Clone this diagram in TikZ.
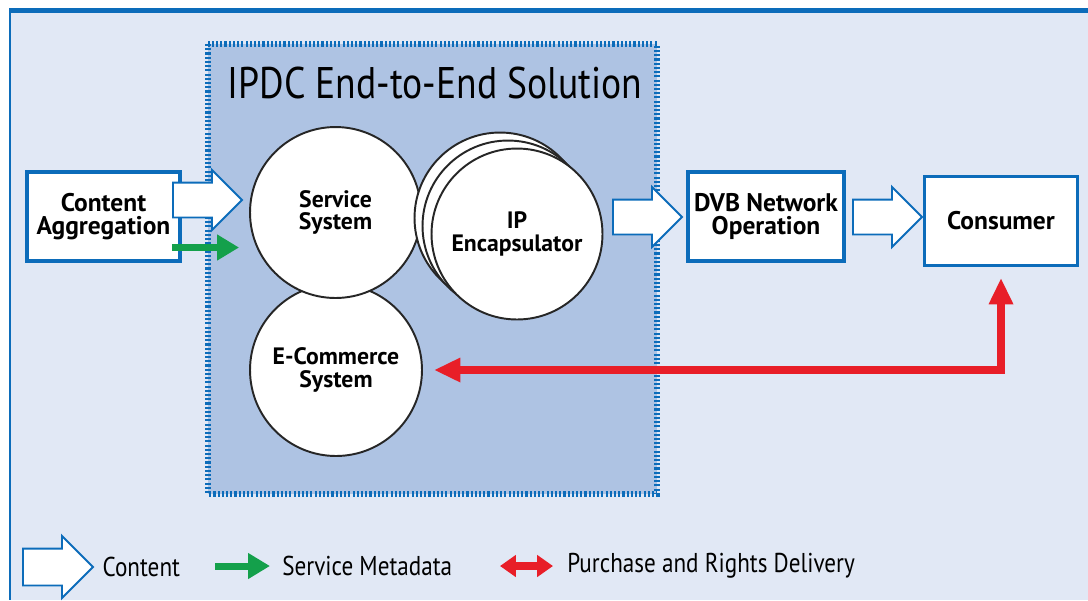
\documentclass[tikz,border=0pt]{standalone}
\usepackage{fontspec}
\setmainfont{PT Sans}
\newfontfamily\condfont[FakeStretch=0.85]{PT Sans}
\usetikzlibrary{arrows.meta}
\usetikzlibrary{positioning}
\usetikzlibrary{shapes.arrows}
\definecolor{ipdcBlue}{RGB}{12,108,186}
\definecolor{frameBg}{RGB}{225,232,245}
\definecolor{solutionBg}{RGB}{174,195,227}
\definecolor{metaGreen}{RGB}{20,160,75}
\definecolor{rightsRed}{RGB}{232,30,40}
\tikzset{
    box/.style={draw=ipdcBlue, line width=2.2pt, fill=white, minimum width=3.06cm,
      minimum height=1.78cm, align=center, font=\bfseries\fontsize{14.5}{13.5}\selectfont},
    unit/.style={circle, draw=black!85, line width=1.1pt, fill=white, minimum size=3.42cm,
      align=center, font=\bfseries\fontsize{13.5}{13}\selectfont},
    content/.style={single arrow, draw=ipdcBlue, fill=white, line width=1.1pt, inner xsep=0pt,
      inner ysep=0.33cm, single arrow head extend=0.25cm, minimum width=1.16cm,
      minimum height=1.38cm, anchor=tail},
    meta/.style={-{Triangle[length=12.5pt,width=14pt]}, draw=metaGreen, line width=4pt},
    rights/.style={{Triangle[length=15pt,width=13pt]}-{Triangle[length=15pt,width=13pt]},
      draw=rightsRed, line width=4.5pt},
    legend/.style={inner sep=0pt, font=\condfont\fontsize{15.5}{15.5}\selectfont},
  }

\begin{document}
\begin{tikzpicture}[x=0.02cm,y=-0.02cm]
  \useasboundingbox (0,0) rectangle (1088,600);
  % frame
  \fill[frameBg] (10,10) rectangle (1088,600);
  \draw[ipdcBlue, line width=1.6pt] (10,10) -- (10,600);
  \draw[ipdcBlue, line width=2.8pt] (9,10.5) -- (1088,10.5);
  \draw[ipdcBlue, line width=3.4pt, fill=solutionBg, dash pattern=on 1.2pt off 1.2pt]
    (208,44) rectangle (657,494);
  \node[anchor=base, inner sep=0pt, font=\condfont\fontsize{25.2}{25}\selectfont] (title) at (435,98)
    {IPDC End-to-End Solution};

  % boxes
  \node[box] (ca) at (103.5,216.5) {Content\\Aggregation};
  \node[box] (dvb) at (766,216.5) {DVB Network\\Operation};
  \node[box] (co) at (1001,221) {Consumer};

  % circles
  \node[unit, minimum size=3.44cm] (ec) at (336,370) {E-Commerce\\System};
  \node[unit] (ss) at (335.5,212.5) {Service\\System};
  \node[unit] (ip3) at (500,218) {};
  \node[unit] (ip2) at (508,226) {};
  \node[unit] (ip) at (517,234) {IP\\Encapsulator};

  % content flow
  \node[content] (ca2ss) at (172,200) {};
  \node[content] (ip2dvb) at (612,217) {};
  \node[content] (dvb2co) at (852,217) {};

  % metadata and rights
  \draw[meta] ([shift={(-10,31)}]ca.east) -- ([shift={(-10,35)}]ss.west);
  \draw[rights, shorten <=6.3pt, shorten >=6pt] (ec.east) -| (co.south);

  % legend
  \node[content, inner ysep=0.35cm, minimum width=1.2cm, minimum height=1.4cm] (lgContent) at (22,567) {};
  \node[legend, right=0.16cm of lgContent] (lgContentText) {Content};
  \coordinate (lgMeta1) at (215,566);
  \coordinate (lgMeta2) at (270,566);
  \draw[meta] (lgMeta1) -- (lgMeta2);
  \node[legend, right=0.24cm of lgMeta2] (lgMetaText) {Service Metadata};
  \coordinate (lgRights1) at (500,566);
  \coordinate (lgRights2) at (553,566);
  \draw[rights, {Triangle[length=9pt,width=12pt]}-{Triangle[length=9pt,width=12pt]}] (lgRights1) -- (lgRights2);
  \node[legend, right=0.28cm of lgRights2] (lgRightsText) {Purchase and Rights Delivery};
\end{tikzpicture}
\end{document}
